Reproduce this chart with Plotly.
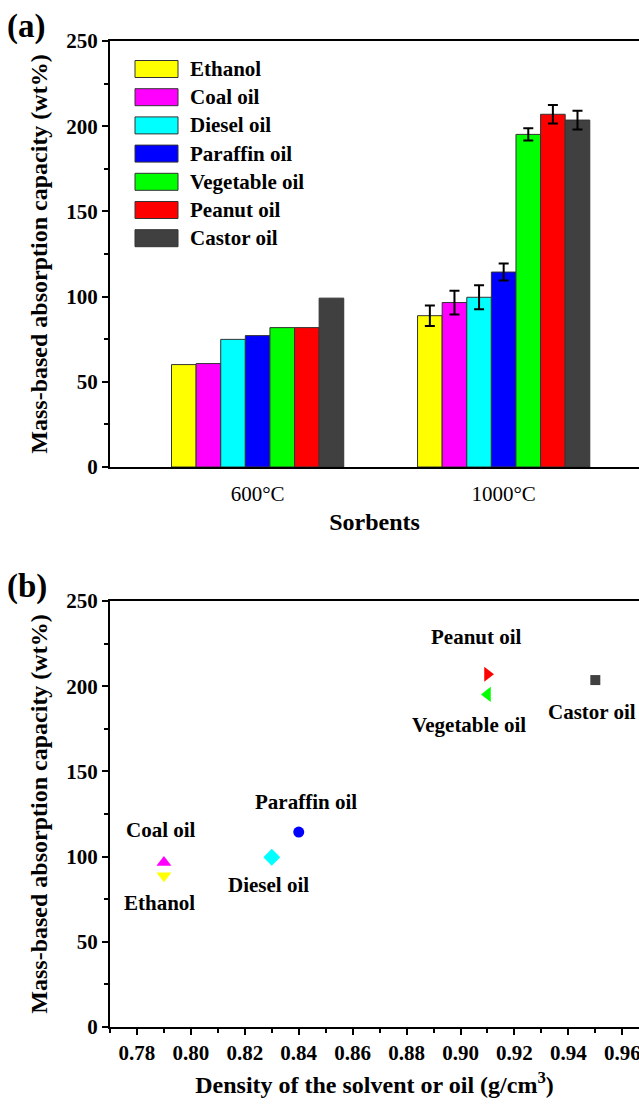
import plotly.graph_objects as go

# ---------------- data ----------------
series = ["Ethanol", "Coal oil", "Diesel oil", "Paraffin oil", "Vegetable oil", "Peanut oil", "Castor oil"]
colors = ["#FFFF00", "#FF00FF", "#00FFFF", "#0000FF", "#00FF00", "#FF0000", "#404040"]
sorbents = ["600°C", "1000°C"]
cap_600 = [60.1, 60.7, 74.9, 77.1, 81.8, 81.8, 99.1]
cap_1000 = [88.8, 96.5, 99.6, 114.4, 195.2, 207.0, 203.6]
err_1000 = [6.0, 7.0, 7.0, 5.0, 3.6, 5.4, 5.5]
density = [0.79, 0.79, 0.83, 0.84, 0.91, 0.91, 0.95]
symbols = ["triangle-down", "triangle-up", "diamond", "circle", "triangle-left", "triangle-right", "square"]
marker_sizes = [13, 13, 13, 11, 13, 13, 10]
# label offsets (pixels) relative to each point
label_dx = [-4, -3, -3, 7, -18, -11, -3]
label_dy = [-27, 33, -28, 30, -31, 37, -32]

FONT = "Liberation Serif"
W, H = 639, 1105
x0 = 110 / W
top_dom = [1 - 467 / H, 1 - 41 / H]
bot_dom = [1 - 1027 / H, 1 - 601 / H]

fig = go.Figure()

for i, name in enumerate(series):
    fig.add_trace(go.Bar(
        x=[0], y=[cap_600[i]], name=name, offsetgroup=str(i),
        marker=dict(color=colors[i], line=dict(color="#333333", width=1)),
        xaxis="x", yaxis="y", showlegend=False,
    ))
    fig.add_trace(go.Bar(
        x=[1], y=[cap_1000[i]], name=name, offsetgroup=str(i),
        marker=dict(color=colors[i], line=dict(color="#333333", width=1)),
        error_y=dict(type="data", array=[err_1000[i]], visible=True,
                     color="black", thickness=2, width=5),
        xaxis="x", yaxis="y", showlegend=False,
    ))

for i, name in enumerate(series):
    fig.add_trace(go.Scatter(
        x=[density[i]], y=[cap_1000[i]], mode="markers", name=name,
        marker=dict(symbol=symbols[i], size=marker_sizes[i], color=colors[i],
                    line=dict(width=0)),
        xaxis="x2", yaxis="y2", showlegend=False,
    ))

tickfont = dict(family=FONT, size=21, color="black")
titlefont = dict(family=FONT, size=24, color="black")
axis_common = dict(showline=True, linecolor="black", linewidth=2, showgrid=False,
                   zeroline=False, tickfont=tickfont, automargin=False)
ytitle = "<b>Mass-based absorption capacity (wt%)</b>"

fig.update_layout(
    width=W, height=H, margin=dict(l=0, r=0, t=0, b=0, autoexpand=False),
    paper_bgcolor="white", plot_bgcolor="white", showlegend=False,
    barmode="group", bargap=0.3, bargroupgap=0,
    font=dict(family=FONT, color="black"),
    xaxis=dict(domain=[x0, 1], anchor="y", range=[-0.6, 1.55],
               tickvals=[0, 1], ticktext=sorbents,
               ticks="outside", ticklen=7, tickcolor="rgba(0,0,0,0)", mirror=True,
               title=dict(text="<b>Sorbents</b>", font=titlefont, standoff=8),
               **axis_common),
    yaxis=dict(domain=top_dom, anchor="x", range=[0, 250], dtick=50,
               ticks="outside", ticklen=6, tickwidth=2, tickcolor="black",
               minor=dict(dtick=25, ticks="outside", ticklen=4, tickwidth=2, tickcolor="black"),
               title=dict(text=ytitle, font=titlefont, standoff=12),
               **axis_common),
    xaxis2=dict(domain=[x0, 1], anchor="y2", range=[0.77, 0.9662],
                tick0=0.78, dtick=0.02, tickformat=".2f",
                ticks="outside", ticklen=6, tickwidth=2, tickcolor="black",
                ticklabeloverflow="allow",
                minor=dict(dtick=0.01, ticks="outside", ticklen=4, tickwidth=2, tickcolor="black"),
                mirror=True,
                title=dict(text="<b>Density of the solvent or oil (g/cm<sup>3</sup>)</b>", font=titlefont, standoff=12),
                **axis_common),
    yaxis2=dict(domain=bot_dom, anchor="x2", range=[0, 250], dtick=50,
                ticks="outside", ticklen=6, tickwidth=2, tickcolor="black",
                minor=dict(dtick=25, ticks="outside", ticklen=4, tickwidth=2, tickcolor="black"),
                title=dict(text=ytitle, font=titlefont, standoff=12),
                **axis_common),
)

# tick labels bold
fig.update_xaxes(tickprefix="<b>", ticksuffix="</b>")
fig.update_yaxes(tickprefix="<b>", ticksuffix="</b>")

# custom legend for panel (a)
plot_w = W - 110
for i, name in enumerate(series):
    yc = 69 + 28.2 * i
    ytop = 1 - (yc - 8.5 - 41) / 426
    ybot = 1 - (yc + 8.5 - 41) / 426
    fig.add_shape(type="rect", xref="x domain", yref="y domain",
                  x0=(135 - 110) / plot_w, x1=(178 - 110) / plot_w, y0=ybot, y1=ytop,
                  fillcolor=colors[i], line=dict(color="#333333", width=1))
    fig.add_annotation(xref="x domain", yref="y domain",
                       x=(188 - 110) / plot_w, y=1 - (yc - 41) / 426,
                       text=f"<b>{name}</b>", showarrow=False, xanchor="left", yanchor="middle",
                       font=dict(family=FONT, size=21, color="black"))

# point labels for panel (b)
for i, name in enumerate(series):
    fig.add_annotation(xref="x2", yref="y2", x=density[i], y=cap_1000[i],
                       text=f"<b>{name}</b>", showarrow=False,
                       xshift=label_dx[i], yshift=label_dy[i],
                       font=dict(family=FONT, size=21, color="black"))

# panel letters
fig.add_annotation(xref="paper", yref="paper", x=0.008, y=1 - 26 / H, text="<b>(a)</b>",
                   showarrow=False, xanchor="left", yanchor="middle",
                   font=dict(family=FONT, size=33, color="black"))
fig.add_annotation(xref="paper", yref="paper", x=0.008, y=1 - 586 / H, text="<b>(b)</b>",
                   showarrow=False, xanchor="left", yanchor="middle",
                   font=dict(family=FONT, size=33, color="black"))

fig.write_html("out.html")
